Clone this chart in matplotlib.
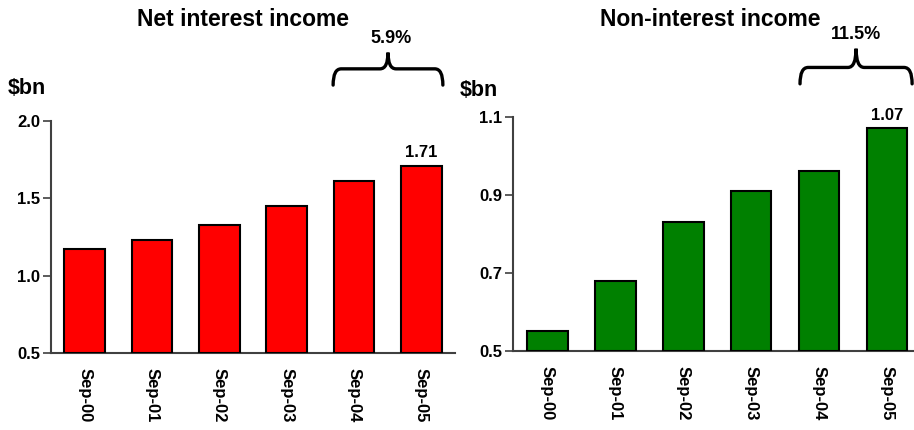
import numpy as np
import matplotlib
matplotlib.use("Agg")
import matplotlib.pyplot as plt
from matplotlib.path import Path
from matplotlib.patches import PathPatch

plt.rcParams['font.family'] = ['Liberation Sans', 'DejaVu Sans']
plt.rcParams['font.weight'] = 'bold'

# data
periods = ['Sep-00', 'Sep-01', 'Sep-02', 'Sep-03', 'Sep-04', 'Sep-05']
net_interest = [1.17, 1.23, 1.33, 1.45, 1.61, 1.71]
non_interest = [0.55, 0.68, 0.83, 0.91, 0.96, 1.07]
growth = ['5.9%', '11.5%']
titles = ['Net interest income', 'Non-interest income']


def brace(ax, x0, x1, y_bot, y_mid, y_top, r):
    # curly brace spanning x0..x1, opening downward
    xc = (x0 + x1) / 2
    tr = ax.get_xaxis_transform()
    verts = [(x0, y_bot), (x0, y_mid), (x0 + r, y_mid),
             (xc - r, y_mid),
             (xc, y_mid), (xc, y_top),
             (xc, y_mid), (xc + r, y_mid),
             (x1 - r, y_mid),
             (x1, y_mid), (x1, y_bot)]
    codes = [Path.MOVETO, Path.CURVE3, Path.CURVE3,
             Path.LINETO,
             Path.CURVE3, Path.CURVE3,
             Path.CURVE3, Path.CURVE3,
             Path.LINETO,
             Path.CURVE3, Path.CURVE3]
    p = PathPatch(Path(verts, codes), transform=tr, fill=False,
                  lw=2.4, color='black', clip_on=False, capstyle='round')
    ax.add_patch(p)


fig = plt.figure(figsize=(9.14, 4.3), dpi=100)
ax1 = fig.add_axes([0.0558, 0.179, 0.442, 0.5395])
ax2 = fig.add_axes([0.5616, 0.1837, 0.446, 0.545])

x = np.arange(len(periods))

for ax, vals, col, ylim, yt in [
        (ax1, net_interest, '#ff0000', (0.5, 2.0), [0.5, 1.0, 1.5, 2.0]),
        (ax2, non_interest, '#008000', (0.5, 1.1), [0.5, 0.7, 0.9, 1.1])]:
    ax.bar(x, np.array(vals) - ylim[0], bottom=ylim[0], width=0.6, color=col,
           edgecolor='black', linewidth=1.5, zorder=3)
    ax.set_xlim(-0.5, 5.5)
    ax.set_ylim(*ylim)
    ax.set_yticks(yt)
    ax.set_yticklabels([f'{v:.1f}' for v in yt], fontsize=12, fontweight='bold')
    ax.set_xticks(x)
    ax.set_xticklabels(periods, rotation=270, fontsize=12, fontweight='bold')
    ax.tick_params(axis='x', length=0, pad=11)
    ax.tick_params(axis='y', length=6, width=1.2, color='#404040', pad=2)
    for s in ['top', 'right']:
        ax.spines[s].set_visible(False)
    for s in ['left', 'bottom']:
        ax.spines[s].set_color('#404040')
        ax.spines[s].set_linewidth(1.5)

# last-value labels
ax1.text(x[-1], net_interest[-1] + 0.04, f'{net_interest[-1]:.2f}', ha='center',
         va='bottom', fontsize=12, fontweight='bold')
ax2.text(x[-1], non_interest[-1] + 0.015, f'{non_interest[-1]:.2f}', ha='center',
         va='bottom', fontsize=12, fontweight='bold')

# titles and units
fig.text(243 / 914, 1 - 20 / 430, titles[0], ha='center', va='center',
         fontsize=16.5, fontweight='bold')
fig.text(710 / 914, 1 - 20 / 430, titles[1], ha='center', va='center',
         fontsize=16.5, fontweight='bold')
fig.text(8 / 914, 1 - 89 / 430, '$bn', ha='left', va='center',
         fontsize=15.5, fontweight='bold')
fig.text(460 / 914, 1 - 90 / 430, '$bn', ha='left', va='center',
         fontsize=15.5, fontweight='bold')

# growth braces
brace(ax1, 3.69, 5.32, 1.155, 1.225, 1.295, 0.12)
ax1.text(4.55, 1.355, growth[0], transform=ax1.get_xaxis_transform(),
         ha='center', va='center', fontsize=13, fontweight='bold')
brace(ax2, 3.72, 5.37, 1.14, 1.21, 1.29, 0.12)
ax2.text(4.545, 1.35, growth[1], transform=ax2.get_xaxis_transform(),
         ha='center', va='center', fontsize=13, fontweight='bold')

fig.savefig('out.png', dpi=100)
